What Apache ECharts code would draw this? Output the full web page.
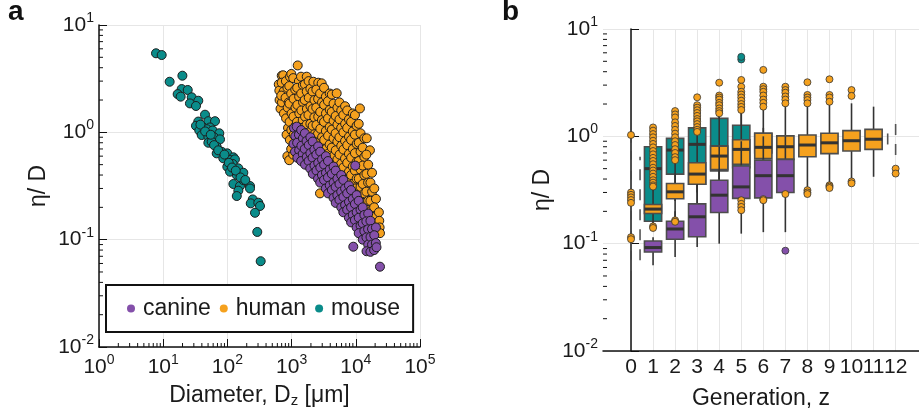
<!DOCTYPE html>
<html>
<head>
<meta charset="utf-8">
<script src="https://cdn.jsdelivr.net/npm/echarts@6/dist/echarts.min.js"></script>
<style>
  html, body { margin: 0; padding: 0; background: #fff; }
  #chart { width: 919px; height: 415px; }
</style>
</head>
<body>
<div id="chart"></div>
<script>
// ---- panel a : eta/D against diameter ----
var mousePts = [
  [7.73,5.45],[9.47,5.25],[19.9,3.37],[12.6,2.96],[19.4,2.53],[24.1,2.48],[16.8,2.27],[18.7,2.15],
  [27.8,2.12],[35.2,1.97],[26.1,1.86],[32.4,1.76],[44.8,1.46],[50.5,1.27],[64.1,1.27],[35.2,1.26],
  [32.4,1.15],[42.2,1.11],[53.6,1.11],[36.5,1.04],[47.6,1.07],[59.0,1.04],[74.8,0.98],[39.8,0.944],
  [50.5,0.91],[61.8,0.90],[76.7,0.86],[50.5,0.80],[56.9,0.817],[68.1,0.734],[81.5,0.659],[99.7,0.637],
  [124,0.585],[68.1,0.637],[86.3,0.573],[110,0.552],[131,0.56],[99.7,0.478],[121,0.507],[148,0.462],
  [110,0.43],[140,0.40],[177,0.42],[124,0.33],[157,0.316],[177,0.359],[225,0.316],[148,0.286],
  [140,0.255],[225,0.30],[248,0.237],[231,0.218],[303,0.221],[322,0.206],[269,0.178],[292,0.118],
  [330,0.063],[38,1.18],[45,1.02],[55,0.95],[62,0.76],[72,0.68],[90,0.62],[105,0.52],[118,0.47],
  [135,0.44],[160,0.38],[190,0.36]
];

var humanPts = [
  [631,2.8],[650,2.0],[672,1.66],[702,3.37],[644,2.45],
  [740,3.4],[700,2.9],[752,2.4],[708,1.9],[760,1.5],[690,2.2],
  [815,3.0],[862,2.6],[805,2.1],[870,1.7],[820,1.35],[880,1.1],[835,0.95],[860,0.6],[900,1.9],
  [944,3.3],[990,3.5],[920,2.7],[985,2.3],[925,1.85],[1000,1.5],[930,1.25],[990,1.05],[940,0.85],[985,0.7],[918,0.55],
  [1060,3.2],[1140,2.5],[1075,2.05],[1150,1.7],[1070,1.4],[1160,1.15],[1080,0.95],[1130,0.78],[1060,0.62],
  [1245,4.2],[1300,3.0],[1220,2.6],[1310,2.15],[1230,1.8],[1320,1.5],[1215,1.25],[1300,1.05],[1230,0.88],[1320,0.72],[1260,0.58],
  [1400,3.3],[1500,2.75],[1410,2.3],[1510,1.9],[1420,1.6],[1490,1.3],[1400,1.1],[1500,0.92],[1420,0.75],[1490,0.62],
  [1720,3.3],[1610,2.8],[1720,2.4],[1600,2.0],[1730,1.65],[1620,1.4],[1710,1.18],[1600,0.98],[1700,0.8],[1620,0.66],
  [1840,3.0],[1960,2.55],[1850,2.1],[1970,1.75],[1830,1.45],[1960,1.2],[1850,1.0],[1950,0.82],[1860,0.68],
  [2180,2.96],[2120,2.4],[2270,2.0],[2120,1.65],[2260,1.38],[2130,1.15],[2270,0.96],[2140,0.8],[2250,0.66],[2150,0.55],
  [2600,2.9],[2430,2.5],[2590,2.05],[2420,1.7],[2600,1.4],[2440,1.17],[2580,0.97],[2430,0.8],[2590,0.65],[2450,0.53],
  [2940,2.86],[2780,2.3],[2980,1.9],[2790,1.55],[2970,1.3],[2800,1.08],[2990,0.9],[2790,0.74],[2960,0.6],[2800,0.5],[2770,0.27],
  [3200,2.6],[3420,2.15],[3210,1.8],[3430,1.5],[3200,1.25],[3420,1.03],[3220,0.85],[3410,0.7],[3230,0.57],[3400,0.47],
  [3920,2.3],[3680,1.95],[3930,1.62],[3690,1.35],[3920,1.12],[3700,0.93],[3910,0.77],[3680,0.63],[3920,0.52],[3700,0.43],
  [4230,2.25],[4500,1.85],[4220,1.55],[4510,1.28],[4240,1.06],[4500,0.88],[4230,0.72],[4520,0.6],[4250,0.5],[4490,0.41],
  [5040,2.31],[5170,1.7],[4860,1.42],[5180,1.18],[4850,0.98],[5160,0.82],[4870,0.68],[5170,0.56],[4860,0.46],[5150,0.38],
  [5560,1.9],[5930,1.6],[5570,1.32],[5920,1.1],[5560,0.9],[5940,0.75],[5580,0.62],[5910,0.51],[5570,0.42],[5920,0.35],
  [6810,1.75],[6400,1.45],[6820,1.2],[6410,1.0],[6800,0.83],[6420,0.69],[6790,0.57],[6400,0.47],[6810,0.39],[6420,0.33],
  [7350,1.6],[7820,1.32],[7340,1.1],[7830,0.91],[7360,0.76],[7810,0.63],[7350,0.52],[7820,0.43],[7370,0.36],[7800,0.3],
  [8980,1.5],[8450,1.25],[8970,1.02],[8440,0.85],[8990,0.7],[8460,0.58],[8960,0.48],[8450,0.4],[8980,0.33],[8470,0.28],
  [9700,1.45],[10300,1.15],[9680,0.95],[10320,0.78],[9700,0.64],[10300,0.53],[9690,0.44],[10310,0.37],[9720,0.3],[10280,0.26],
  [11600,1.67],[11100,1.2],[11850,0.98],[11120,0.8],[11860,0.66],[11100,0.54],[11840,0.45],[11130,0.37],[11850,0.31],[11150,0.25],
  [13600,0.88],[12800,0.72],[13600,0.59],[12800,0.49],[13600,0.4],[12820,0.33],[13580,0.27],[12800,0.22],
  [14800,0.88],[16600,0.68],
  [14600,0.62],[15600,0.5],[14650,0.41],[15550,0.34],[14600,0.28],[15600,0.23],[14700,0.19],
  [17900,0.42],[16900,0.34],[17950,0.28],[16900,0.23],[17900,0.19],[16950,0.16],[17850,0.135],
  [19400,0.3],[20600,0.24],[19300,0.2],[20600,0.165],[19400,0.14],[20500,0.12],
  [22900,0.18],[23200,0.15],[23500,0.13],[23800,0.115]
];

var caninePts = [
  [1090,1.1],[1140,0.92],[1070,0.78],[1130,0.66],
  [1200,1.13],[1300,0.95],[1220,0.8],[1310,0.68],[1230,0.58],
  [1410,1.05],[1500,0.88],[1420,0.75],[1490,0.63],[1410,0.54],
  [1610,0.98],[1710,0.83],[1600,0.7],[1720,0.59],[1620,0.5],
  [1960,0.9],[1850,0.76],[1960,0.64],[1840,0.54],[1950,0.46],
  [2130,0.82],[2260,0.69],[2120,0.58],[2270,0.49],[2140,0.41],
  [2590,0.74],[2430,0.62],[2600,0.52],[2440,0.44],[2580,0.37],
  [2790,0.66],[2980,0.56],[2800,0.47],[2970,0.4],[2790,0.34],
  [3420,0.6],[3210,0.5],[3430,0.42],[3200,0.36],[3410,0.3],
  [3690,0.54],[3920,0.45],[3680,0.38],[3930,0.32],[3700,0.27],
  [4500,0.48],[4230,0.41],[4510,0.34],[4240,0.29],[4500,0.245],
  [4860,0.44],[5170,0.37],[4850,0.31],[5160,0.26],[4870,0.22],
  [5930,0.4],[5570,0.33],[5920,0.28],[5560,0.235],[5940,0.2],
  [6400,0.36],[6810,0.3],[6410,0.25],[6820,0.21],[6400,0.18],
  [9800,0.49],
  [7820,0.32],[7350,0.27],[7830,0.225],[7340,0.19],[7810,0.16],
  [8450,0.29],[8980,0.24],[8440,0.2],[8970,0.17],[8460,0.145],
  [10300,0.26],[9700,0.215],[10320,0.18],[9680,0.152],[10300,0.13],
  [11100,0.23],[11850,0.19],[11120,0.16],[11860,0.135],[11100,0.115],
  [12800,0.2],[13600,0.17],[12800,0.142],[13600,0.12],[12820,0.1],
  [15600,0.175],[14600,0.148],[15550,0.125],[14650,0.105],[15600,0.09],[14700,0.078],
  [16900,0.15],[17900,0.126],[16950,0.106],[17900,0.09],[16900,0.077],
  [20600,0.13],[19400,0.11],[20500,0.093],[19300,0.08],
  [21000,0.085],[23800,0.056],[9140,0.086]
];

// ---- panel b : box plots per generation, [gen, low, q1, median, q3, high] ----
var genLabels = [0,1,2,3,4,5,6,7,8,9,10,11,12];

var mouseBoxes = [
  [1, 0.14, 0.162, 0.50, 0.80, 1.05],
  [2, 0.25, 0.445, 0.745, 0.958, 1.6],
  [3, 0.30, 0.358, 0.842, 1.20, 2.0],
  [4, 0.30, 0.477, 0.80, 1.47, 2.2],
  [5, 0.30, 0.51, 0.85, 1.27, 2.2],
  [6, 0.60, 0.70, 0.85, 1.07, 1.2]
];
var humanBoxes = [
  [1, 0.15, 0.191, 0.21, 0.232, 0.33],
  [2, 0.17, 0.262, 0.304, 0.364, 0.58],
  [3, 0.20, 0.358, 0.445, 0.567, 1.08],
  [4, 0.25, 0.49, 0.655, 0.81, 1.6],
  [5, 0.27, 0.55, 0.756, 0.93, 1.7],
  [6, 0.28, 0.62, 0.79, 1.07, 1.85],
  [7, 0.30, 0.61, 0.80, 1.01, 2.0],
  [8, 0.338, 0.645, 0.83, 1.03, 1.96],
  [9, 0.364, 0.69, 0.87, 1.07, 2.1],
  [10, 0.39, 0.73, 0.91, 1.13, 2.03],
  [11, 0.42, 0.756, 0.94, 1.16, 1.89]
];
var canineBoxes = [
  [1, 0.063, 0.0835, 0.092, 0.106, 0.115],
  [2, 0.075, 0.11, 0.137, 0.162, 0.2],
  [3, 0.093, 0.116, 0.178, 0.235, 0.36],
  [4, 0.10, 0.195, 0.283, 0.39, 0.8],
  [5, 0.124, 0.264, 0.338, 0.53, 0.9],
  [6, 0.128, 0.267, 0.43, 0.60, 1.0],
  [7, 0.128, 0.30, 0.43, 0.61, 1.0]
];

var mouseOut = [[5,5.2],[5,5.5]];
var canineOut = [[7,0.086]];
var humanOut = [
  [0,1.03],[0,0.30],[0,0.285],[0,0.27],[0,0.255],[0,0.24],[0,0.115],[0,0.11],
  [1,1.21],[1,1.13],[1,1.05],[1,0.98],[1,0.91],[1,0.85],[1,0.79],[1,0.73],[1,0.68],[1,0.63],[1,0.59],
  [1,0.55],[1,0.51],[1,0.48],[1,0.45],[1,0.42],[1,0.39],[1,0.37],[1,0.35],[1,0.34],[1,0.145],[1,0.14],
  [2,1.72],[2,1.6],[2,1.5],[2,1.35],[2,1.25],[2,1.15],[2,1.06],[2,0.98],[2,0.9],[2,0.83],[2,0.76],
  [2,0.7],[2,0.64],[2,0.60],[2,0.165],[2,0.16],
  [3,2.31],[3,1.95],[3,1.85],[3,1.75],[3,1.65],[3,1.55],[3,1.45],[3,1.38],[3,1.3],[3,1.22],[3,1.15],[3,1.1],
  [4,3.16],[4,2.4],[4,2.3],[4,2.2],[4,2.05],[4,1.95],[4,1.82],[4,1.72],[4,1.64],
  [5,3.35],[5,2.9],[5,2.6],[5,2.45],[5,2.3],[5,2.15],[5,2.0],[5,1.88],[5,1.76],[5,0.254],[5,0.235],[5,0.22],[5,0.205],
  [6,4.16],[6,2.9],[6,2.75],[6,2.6],[6,2.4],[6,2.2],[6,2.05],[6,1.89],[6,0.26],[6,0.254],
  [7,2.9],[7,2.7],[7,2.55],[7,2.35],[7,2.2],[7,2.03],[7,0.29],
  [8,3.19],[8,2.43],[8,2.3],[8,2.18],[8,2.03],[8,0.315],[8,0.30],[8,0.29],
  [9,3.4],[9,2.43],[9,2.3],[9,2.1],[9,0.35],[9,0.34],[9,0.33],
  [10,2.7],[10,2.38],[10,0.38],[10,0.365],
  [12,0.50],[12,0.45]
];

// loose whisker-only marks, [gen, low, high]
var looseSegs = [[0,0.056,0.87],[0.41,0.07,0.645],[11.64,0.84,1.16],[12,0.67,1.39]];

var PURPLE = '#8450aa', ORANGE = '#f5a11e', TEAL = '#0a8c8a';
var FONT = 'Liberation Sans, Arial, sans-serif';
var TXT = '#1a1a1a';

// minor tick positions of the log axes (2..9 in each decade)
var minorMant = [2, 3, 4, 5, 6, 7, 8, 9];
function minorVals(fromExp, toExp) {
  var out = [];
  for (var e = fromExp; e < toExp; e++) {
    minorMant.forEach(function (m) { out.push(+(m * Math.pow(10, e)).toPrecision(3)); });
  }
  return out;
}
var xMinor = minorVals(0, 5).map(function (v) { return [v, 0.01]; });
var yMinorA = minorVals(-2, 1).map(function (v) { return [1, v]; });
var yMinorB = minorVals(-2, 1).map(function (v) { return [-1.27, v]; });

function tickItem(dx, dy) {
  return function (params, api) {
    var p = api.coord([api.value(0), api.value(1)]);
    return { type: 'line', shape: { x1: p[0], y1: p[1], x2: p[0] + dx, y2: p[1] + dy },
      style: { stroke: '#111', lineWidth: 1 } };
  };
}

// generation numbers under panel b (drawn as text so that 10/11/12 are all kept)
function genLabelItem(params, api) {
  var p = api.coord([api.value(0), 0.01]);
  return { type: 'text', x: p[0], y: p[1] + 6,
    style: { text: String(api.value(0)), fontSize: 21, fontFamily: FONT, fill: TXT,
      align: 'center', verticalAlign: 'top' } };
}

function powLabel(v) {
  var e = Math.round(Math.log10(v));
  return '{b|10}{s|' + e + '}';
}
var powRich = {
  b: { fontSize: 21, color: TXT, fontFamily: FONT },
  s: { fontSize: 14, color: TXT, fontFamily: FONT, padding: [0, 0, 14, 0] }
};

function boxItem(fill) {
  return function (params, api) {
    var x = api.value(0);
    var lo = api.coord([x, api.value(1)]);
    var q1 = api.coord([x, api.value(2)]);
    var md = api.coord([x, api.value(3)]);
    var q3 = api.coord([x, api.value(4)]);
    var hi = api.coord([x, api.value(5)]);
    var xl = api.coord([x - 0.39, api.value(3)])[0];
    var xr = api.coord([x + 0.39, api.value(3)])[0];
    return {
      type: 'group',
      children: [
        { type: 'line', shape: { x1: lo[0], y1: lo[1], x2: hi[0], y2: hi[1] },
          style: { stroke: '#333', lineWidth: 1.6 } },
        { type: 'rect', shape: { x: xl, y: q3[1], width: xr - xl, height: q1[1] - q3[1] },
          style: { fill: fill, stroke: '#4d4d4d', lineWidth: 1.6 } },
        { type: 'line', shape: { x1: xl, y1: md[1], x2: xr, y2: md[1] },
          style: { stroke: '#333', lineWidth: 3 } }
      ]
    };
  };
}

function segItem(params, api) {
  var x = api.value(0);
  var a = api.coord([x, api.value(1)]);
  var b = api.coord([x, api.value(2)]);
  return { type: 'line', shape: { x1: a[0], y1: a[1], x2: b[0], y2: b[1] },
    style: { stroke: '#555', lineWidth: 1.6, lineDash: [11, 9] } };
}

var chart = echarts.init(document.getElementById('chart'), null, { renderer: 'canvas' });

var logY = function (gridIndex) {
  return {
    type: 'log', gridIndex: gridIndex, min: 0.01, max: 10, logBase: 10, splitNumber: 3,
    name: 'η/ D', nameLocation: 'middle', nameRotate: 90, nameGap: 49,
    nameTextStyle: { fontSize: 23, color: TXT, fontFamily: FONT },
    axisLine: { show: true, lineStyle: { color: '#111', width: 1.5 } },
    axisTick: { show: true, inside: true, length: 8, lineStyle: { color: '#111' } },
    splitLine: { show: true, lineStyle: { color: '#e6e6e6', width: 1 } },
    axisLabel: { formatter: powLabel, rich: powRich, margin: 5 }
  };
};

var option = {
  backgroundColor: '#fff',
  animation: false,
  textStyle: { fontFamily: FONT },
  title: [
    { text: 'a', left: 8, top: -2, padding: 0,
      textStyle: { fontSize: 28, fontWeight: 'bold', color: '#111', fontFamily: FONT } },
    { text: 'b', left: 502, top: -2, padding: 0,
      textStyle: { fontSize: 28, fontWeight: 'bold', color: '#111', fontFamily: FONT } }
  ],
  grid: [
    { left: 99, top: 25, width: 321, height: 322 },
    { left: 603, top: 29, width: 316, height: 322 }
  ],
  legend: {
    data: ['canine', 'human', 'mouse'],
    left: 106, top: 285, orient: 'horizontal',
    icon: 'circle', itemWidth: 14, itemHeight: 8, itemGap: 9,
    padding: [12, 13, 12, 21],
    borderColor: '#111', borderWidth: 2, backgroundColor: '#fff',
    itemStyle: { borderWidth: 0 },
    textStyle: { fontSize: 23, color: TXT, fontFamily: FONT }
  },
  xAxis: [
    {
      type: 'log', gridIndex: 0, min: 1, max: 100000, logBase: 10, splitNumber: 5,
      name: '{t|Diameter, D}{sub|z}{t| [μm]}', nameLocation: 'middle', nameGap: 36,
      nameTextStyle: { rich: {
        t: { fontSize: 23, color: TXT, fontFamily: FONT },
        sub: { fontSize: 15, color: TXT, fontFamily: FONT, padding: [10, 0, 0, 0] }
      } },
      axisLine: { show: true, lineStyle: { color: '#111', width: 1.5 } },
      axisTick: { show: true, inside: true, length: 8, lineStyle: { color: '#111' } },
      splitLine: { show: true, lineStyle: { color: '#e6e6e6', width: 1 } },
      axisLabel: { formatter: powLabel, rich: powRich, margin: 6 }
    },
    {
      type: 'value', gridIndex: 1, min: -1.27, max: 13.06,
      name: 'Generation, z', nameLocation: 'middle', nameGap: 36,
      nameTextStyle: { fontSize: 23, color: TXT, fontFamily: FONT },
      axisLine: { show: true, lineStyle: { color: '#111', width: 1.5 } },
      axisTick: { show: false, customValues: genLabels },
      splitLine: { show: true, lineStyle: { color: '#e6e6e6', width: 1 } },
      axisLabel: { show: false }
    }
  ],
  yAxis: [logY(0), logY(1)],
  series: [
    { name: 'mouse', type: 'scatter', xAxisIndex: 0, yAxisIndex: 0, data: mousePts,
      symbolSize: 9, itemStyle: { color: TEAL, borderColor: '#1d1d1d', borderWidth: 1, opacity: 1 } },
    { name: 'human', type: 'scatter', xAxisIndex: 0, yAxisIndex: 0, data: humanPts,
      symbolSize: 9, itemStyle: { color: ORANGE, borderColor: '#1d1d1d', borderWidth: 1, opacity: 1 } },
    { name: 'canine', type: 'scatter', xAxisIndex: 0, yAxisIndex: 0, data: caninePts,
      symbolSize: 9, itemStyle: { color: PURPLE, borderColor: '#1d1d1d', borderWidth: 1, opacity: 1 } },

    { name: 'x-minor-a', type: 'custom', xAxisIndex: 0, yAxisIndex: 0, data: xMinor,
      renderItem: tickItem(0, -4), silent: true, clip: false, z: 5 },
    { name: 'y-minor-a', type: 'custom', xAxisIndex: 0, yAxisIndex: 0, data: yMinorA,
      renderItem: tickItem(4, 0), silent: true, clip: false, z: 5 },
    { name: 'y-minor-b', type: 'custom', xAxisIndex: 1, yAxisIndex: 1, data: yMinorB,
      renderItem: tickItem(4, 0), silent: true, clip: false, z: 5 },
    { name: 'gen-labels', type: 'custom', xAxisIndex: 1, yAxisIndex: 1,
      data: genLabels.map(function (g) { return [g, 0.01]; }),
      renderItem: genLabelItem, silent: true, clip: false, z: 5 },

    { name: 'loose', type: 'custom', xAxisIndex: 1, yAxisIndex: 1, data: looseSegs,
      renderItem: segItem, encode: { x: 0, y: [1, 2] } },
    { name: 'mouse-gen', type: 'custom', xAxisIndex: 1, yAxisIndex: 1, data: mouseBoxes,
      renderItem: boxItem(TEAL), encode: { x: 0, y: [1, 2, 3, 4, 5] } },
    { name: 'human-gen', type: 'custom', xAxisIndex: 1, yAxisIndex: 1, data: humanBoxes,
      renderItem: boxItem(ORANGE), encode: { x: 0, y: [1, 2, 3, 4, 5] } },
    { name: 'canine-gen', type: 'custom', xAxisIndex: 1, yAxisIndex: 1, data: canineBoxes,
      renderItem: boxItem(PURPLE), encode: { x: 0, y: [1, 2, 3, 4, 5] } },
    { name: 'mouse-out', type: 'scatter', xAxisIndex: 1, yAxisIndex: 1, data: mouseOut,
      symbolSize: 7, itemStyle: { color: TEAL, borderColor: '#333', borderWidth: 0.8, opacity: 1 } },
    { name: 'human-out', type: 'scatter', xAxisIndex: 1, yAxisIndex: 1, data: humanOut,
      symbolSize: 7, itemStyle: { color: ORANGE, borderColor: '#333', borderWidth: 0.8, opacity: 1 } },
    { name: 'canine-out', type: 'scatter', xAxisIndex: 1, yAxisIndex: 1, data: canineOut,
      symbolSize: 7, itemStyle: { color: PURPLE, borderColor: '#333', borderWidth: 0.8, opacity: 1 } }
  ]
};

chart.setOption(option);
</script>
</body>
</html>
